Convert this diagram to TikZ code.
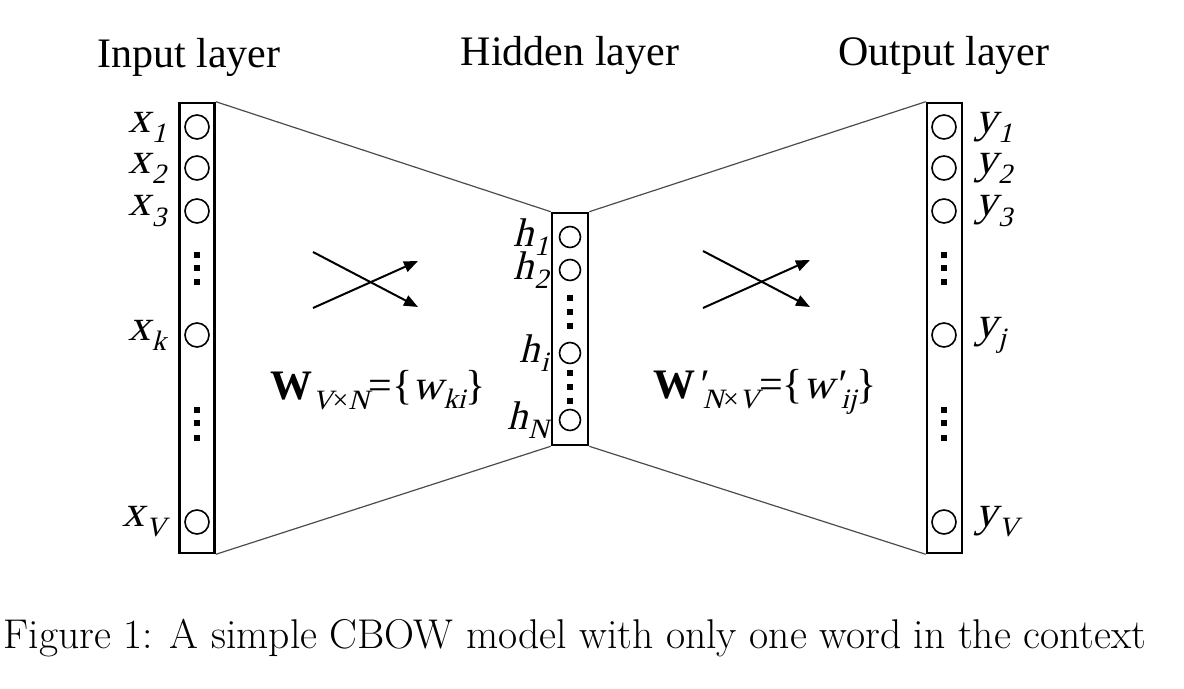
\documentclass[tikz,border=0pt]{standalone}
\usepackage{fontspec}
\newfontfamily\tnr{Liberation Serif}[
	ItalicFont={Liberation Serif},
	ItalicFeatures={FakeSlant=0.25}]
\usetikzlibrary{positioning,arrows.meta}

% italic letter with a lowered italic index
\newcommand\lsub[2]{\textit{#1}\kern0.5pt\raisebox{-0.5ex}{\fontsize{14}{14}\selectfont\textit{#2}}}

\tikzset{
	layerbox/.style={draw,line width=1.3pt,minimum width=17.5pt,inner sep=0pt},
	unit/.style={circle,draw,line width=0.8pt,minimum size=12pt,inner sep=0pt},
	hunit/.style={unit,minimum size=10.5pt},
	varlbl/.style={font=\tnr\fontsize{22}{22}\selectfont,inner sep=0pt},
	hidlbl/.style={varlbl,font=\tnr\fontsize{20}{20}\selectfont},
	title/.style={font=\tnr\fontsize{21}{21}\selectfont},
	link/.style={line width=0.6pt,black!70},
	cross/.style={line width=1pt,-{Triangle[length=7pt,width=5.5pt]}}
}

\begin{document}
\begin{tikzpicture}[x=0.5pt,y=-0.5pt]
			\useasboundingbox (0,0) rectangle (1184,689);

			% layer titles
			\node[title] (intitle) at (189,57) {Input layer};
			\node[title] (hidtitle) at (570,55) {Hidden layer};
			\node[title] (outtitle) at (944,55) {Output layer};

			% layer boxes
			\node[layerbox,minimum height=225pt] (inbox) at (197,328) {};
			\node[layerbox,minimum height=116pt,minimum width=18pt] (hidbox) at (570,329) {};
			\node[layerbox,minimum height=225pt] (outbox) at (944.5,328) {};

			% input units
			\foreach \n/\y in {1/127,2/168,3/211,k/335,V/522}{
				\node[unit] (x\n) at (197,\y) {};
				\node[varlbl,left=9pt of x\n] (lx\n) {\lsub{x}{\n}};
			}

			% hidden units
			\foreach \n/\y in {1/237,2/270,i/353,N/420}{
				\node[hunit] (h\n) at (570,\y) {};
				\node[hidlbl,left=5pt of h\n] (lh\n) {\lsub{h}{\n}};
			}

			% output units
			\foreach \n/\y in {1/127,2/168,3/211,j/335,V/522}{
				\node[unit] (y\n) at (944,\y) {};
				\node[varlbl,right=9pt of y\n] (ly\n) {\lsub{y}{\n}};
			}

			% vertical dots
			\foreach \y in {255,268,282,410,423,438}{
				\fill (194,{\y-3}) rectangle (200,{\y+3});
				\fill (941,{\y-3}) rectangle (947,{\y+3});
			}
			\foreach \y in {298,312,326,373,387,401}
				\fill (567,{\y-3}) rectangle (573,{\y+3});

			% links between the layers
			\draw[link] (inbox.north east) -- (hidbox.north west);
			\draw[link] (inbox.south east) -- (hidbox.south west);
			\draw[link] (hidbox.north east) -- (outbox.north west);
			\draw[link] (hidbox.south east) -- (outbox.south west);

			% crossed arrows
			\draw[cross] (313,252) -- (418,307);
			\draw[cross] (313,308) -- (418,261);
			\draw[cross] (703,251) -- (810,307);
			\draw[cross] (703,308) -- (810,260);

			% weight matrices
			\node[varlbl,font=\tnr\fontsize{21}{21}\selectfont] (win) at (378,390) {\textbf{W}\raisebox{-0.55ex}{\fontsize{14}{14}\selectfont\textit{V}×\textit{N}}=\{\lsub{w}{ki}\}};
			\node[varlbl,font=\tnr\fontsize{21}{21}\selectfont] (wout) at (765,392) {\textbf{W}\textit{\textquotesingle}\raisebox{-0.55ex}{\fontsize{14}{14}\selectfont\textit{N}×\textit{V}}=\{\textit{w}\textit{\textquotesingle}\raisebox{-0.55ex}{\fontsize{14}{14}\selectfont\textit{ij}}\}};

			% caption
			\node (caption) at (575,638) {\fontsize{20.8}{21}\selectfont Figure 1: A simple CBOW model with only one word in the context};
\end{tikzpicture}
\end{document}
